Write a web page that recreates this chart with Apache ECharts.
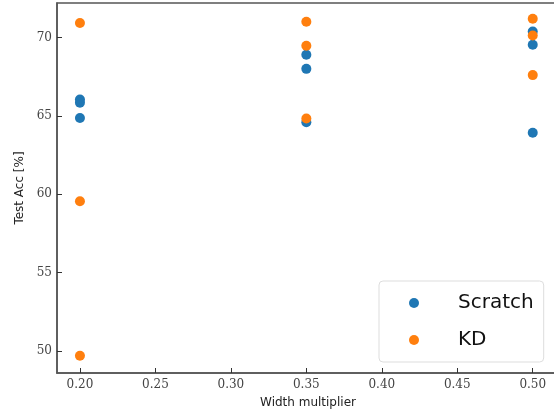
<!DOCTYPE html>
<html>
<head>
    <meta charset="utf-8" />
    <title></title>
    <script src="https://cdn.jsdelivr.net/npm/echarts@6.0.0/dist/echarts.min.js"></script>
    <style>
        * { margin: 0; padding: 0; }
        html, body { background: #fff; overflow: hidden; width: 554px; height: 414px; }
        /* a bit wider than the window: the right spine falls outside the photo */
        #chart { width: 561px; height: 414px; }
    </style>
</head>
<body>
    <div id="chart"></div>
    <script>
        // data
        const widths = [0.20, 0.35, 0.50];
        const scratchAcc = [
            [66.04, 65.84, 64.87],
            [68.90, 68.00, 64.60],
            [70.38, 69.54, 63.92]
        ];
        const kdAcc = [
            [70.93, 59.55, 49.70],
            [71.00, 69.47, 64.83],
            [71.19, 70.13, 67.60]
        ];
        const xTicks = [0.20, 0.25, 0.30, 0.35, 0.40, 0.45, 0.50];
        const yTicks = [50, 55, 60, 65, 70];

        function toPoints(acc) {
            const pts = [];
            widths.forEach((w, i) => acc[i].forEach(v => pts.push([w, v])));
            return pts;
        }

        const chart = echarts.init(document.getElementById('chart'));
        const serif = "'DejaVu Serif', serif";
        const sans = "'DejaVu Sans', sans-serif";
        const spine = { lineStyle: { color: '#555', width: 1.5 } };

        const option = {
            animation: false,
            grid: {
                left: 57, right: 2, top: 3, bottom: 40,
                show: true, borderColor: '#555', borderWidth: 1.5
            },
            xAxis: {
                type: 'value',
                min: 0.1848, max: 0.5174,
                name: 'Width multiplier',
                nameLocation: 'middle',
                nameGap: 24,
                nameTextStyle: { fontFamily: sans, fontSize: 12, color: '#222' },
                axisLine: spine,
                axisTick: { inside: true, length: 5, customValues: xTicks, lineStyle: { color: '#333' } },
                axisLabel: {
                    customValues: xTicks, fontFamily: serif, fontSize: 12, color: '#444', margin: 6,
                    formatter: v => v.toFixed(2)
                },
                splitLine: { show: false }
            },
            yAxis: {
                type: 'value',
                min: 48.6, max: 72.2,
                name: 'Test Acc [%]',
                nameLocation: 'middle',
                nameGap: 25,
                nameTextStyle: { fontFamily: sans, fontSize: 12, color: '#222' },
                axisLine: spine,
                axisTick: { inside: true, length: 5, customValues: yTicks, lineStyle: { color: '#333' } },
                axisLabel: {
                    customValues: yTicks, fontFamily: serif, fontSize: 12, color: '#444', margin: 5
                },
                splitLine: { show: false }
            },
            legend: {
                left: 379, top: 281,
                orient: 'vertical',
                icon: 'circle',
                itemWidth: 10, itemHeight: 10,
                itemGap: 13,
                padding: [10, 10, 10, 30],
                borderColor: '#ddd', borderWidth: 1, borderRadius: 4,
                backgroundColor: 'rgba(255,255,255,0.8)',
                itemStyle: { borderWidth: 0 },
                textStyle: {
                    fontFamily: sans, fontSize: 20, lineHeight: 24, color: '#111',
                    padding: [0, 0, 0, 34]
                },
                data: ['Scratch', 'KD']
            },
            series: [
                {
                    name: 'Scratch', type: 'scatter', symbolSize: 10,
                    itemStyle: { color: '#1f77b4', opacity: 1 },
                    data: toPoints(scratchAcc)
                },
                {
                    name: 'KD', type: 'scatter', symbolSize: 10,
                    itemStyle: { color: '#ff7f0e', opacity: 1 },
                    data: toPoints(kdAcc)
                }
            ]
        };

        chart.setOption(option);
    </script>
</body>
</html>
